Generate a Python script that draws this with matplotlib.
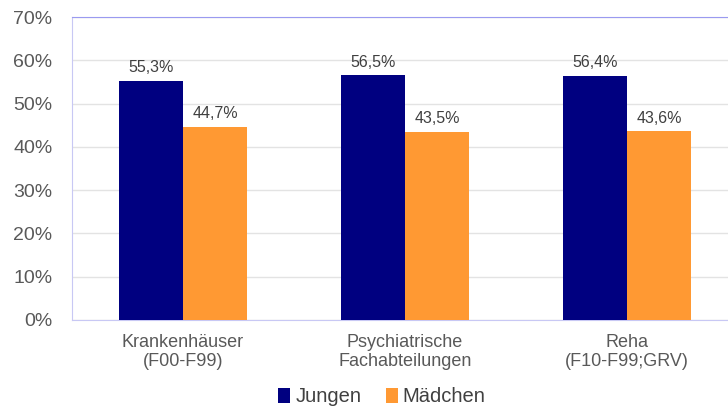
import numpy as np
import matplotlib.pyplot as plt
from matplotlib.ticker import PercentFormatter

kategorien = ["Krankenhäuser\n(F00-F99)", "Psychiatrische\nFachabteilungen", "Reha\n(F10-F99;GRV)"]
jungen = [55.3, 56.5, 56.4]
maedchen = [44.7, 43.5, 43.6]
serien = ["Jungen", "Mädchen"]

plt.rcParams['font.family'] = ['Liberation Sans', 'DejaVu Sans']

fig = plt.figure(figsize=(7.28, 4.12), dpi=100)
ax = fig.add_axes([72/728, 1 - 320/412, 656/728, 303/412])

x = np.arange(len(kategorien))
b = 0.288
bars_j = ax.bar(x - b/2, jungen, b, color='#000080', label=serien[0], zorder=3)
bars_m = ax.bar(x + b/2, maedchen, b, color='#FF9933', label=serien[1], zorder=3)

# Werte über den Balken
for bars in (bars_j, bars_m):
    for r in bars:
        ax.text(r.get_x() + r.get_width()/2, r.get_height() + 1.3,
                f"{r.get_height():.1f}%".replace('.', ','),
                ha='center', va='bottom', fontsize=11.5, color='#404040')

ax.set_ylim(0, 70)
ax.set_xlim(-0.5, 2.5 - 10/222)
ax.set_yticks(np.arange(0, 71, 10))
ax.yaxis.set_major_formatter(PercentFormatter(decimals=0))
ax.grid(axis='y', color='#e3e3e3', linewidth=1, zorder=0)
ax.set_xticks(x)
ax.set_xticklabels(kategorien, fontsize=13, color='#595959', linespacing=1.15)
ax.tick_params(axis='y', length=0, pad=14, labelsize=14, labelcolor='#595959')
ax.tick_params(axis='x', length=0, pad=10)

for s in ['left', 'bottom']:
    ax.spines[s].set_color('#c8c8f4')
ax.spines['top'].set_color('#9a9af0')
ax.spines['right'].set_visible(False)

ax.legend(loc='center', bbox_to_anchor=(382/728, 1 - 397/412), bbox_transform=fig.transFigure,
          ncol=2, frameon=False, fontsize=14.5, handlelength=0.6, handleheight=0.7,
          handletextpad=0.25, columnspacing=1.2, labelcolor='#404040')

fig.savefig("out.png", dpi=100)
